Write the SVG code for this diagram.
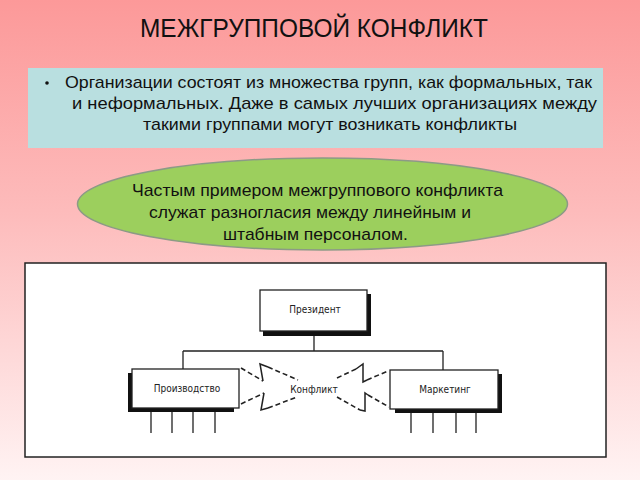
<svg xmlns="http://www.w3.org/2000/svg" width="640" height="480" viewBox="0 0 640 480">
<defs>
<linearGradient id="bg" x1="0" y1="0" x2="0" y2="1">
<stop offset="0" stop-color="#fc9999"/>
<stop offset="0.45" stop-color="#fdbcbc"/>
<stop offset="1" stop-color="#fff3f3"/>
</linearGradient>
<style>
.t{font-family:"Liberation Sans",Arial,sans-serif;fill:#111}
.d{font-family:"DejaVu Sans Condensed","Liberation Sans Narrow","Liberation Sans",sans-serif;font-size:10px;fill:#222}
.box{fill:#fff;stroke:#222;stroke-width:1.3}
.sh{fill:#111}
.ln{stroke:#222;stroke-width:1.3;fill:none}
.dash{stroke:#222;stroke-width:1.6;stroke-dasharray:5 3;fill:none}
.zz{stroke:#222;stroke-width:1.5;fill:none;stroke-linejoin:miter}
</style>
</defs>
<rect x="0" y="0" width="640" height="480" fill="url(#bg)"/>
<text class="t" x="314" y="37" font-size="25" text-anchor="middle" textLength="348" lengthAdjust="spacingAndGlyphs">МЕЖГРУППОВОЙ КОНФЛИКТ</text>
<g id="info">
<rect x="28" y="68" width="575" height="80" fill="#b9dfe0"/>
<circle cx="47" cy="83" r="1.8" fill="#111"/>
<text class="t" x="65" y="88" font-size="17" textLength="527" lengthAdjust="spacingAndGlyphs">Организации состоят из множества групп, как формальных, так</text>
<text class="t" x="72" y="109" font-size="17" textLength="525" lengthAdjust="spacingAndGlyphs">и неформальных. Даже в самых лучших организациях между</text>
<text class="t" x="143" y="130" font-size="17" textLength="374" lengthAdjust="spacingAndGlyphs">такими группами могут возникать конфликты</text>
</g>
<g id="example">
<ellipse cx="322.5" cy="204" rx="245" ry="46" fill="#9ccf5d" stroke="#8c9a86" stroke-width="1.5"/>
<text class="t" x="132" y="196" font-size="17" textLength="371" lengthAdjust="spacingAndGlyphs">Частым примером межгруппового конфликта</text>
<text class="t" x="149" y="218" font-size="17" textLength="322" lengthAdjust="spacingAndGlyphs">служат разногласия между линейным и</text>
<text class="t" x="223" y="240" font-size="17" textLength="185" lengthAdjust="spacingAndGlyphs">штабным персоналом.</text>
</g>
<rect x="25" y="263" width="581" height="194" fill="#fff" stroke="#222" stroke-width="1.5"/>
<g id="connectors">
<path class="ln" d="M314 331 V351 M183 351 H443 M183 351 V369 M443 351 V370"/>
<path class="ln" d="M151 408 V433 M172 408 V433 M193 408 V433 M215 408 V433"/>
<path class="ln" d="M411 410 V433 M433 410 V433 M456 410 V433 M476 410 V433"/>
<path class="dash" d="M241 368 L263 381 M268 367 L298 380 M241 404 L264 393 M268 408 L297 397"/>
<path class="zz" d="M263 381 L260 364 L268 367 M264 393 L261 410 L268 408"/>
<path class="dash" d="M337 378 L356 369 M367 380 L388 371 M337 397 L360 410 M368 395 L389 407"/>
<path class="zz" d="M356 369 L363 364 L363 382 L367 380 M360 410 L365 411 L365 393 L368 395"/>
</g>
<g id="president">
<rect class="sh" x="263" y="294" width="108" height="42"/>
<rect class="box" x="260" y="290" width="107" height="41"/>
<text class="d" x="315" y="313" text-anchor="middle">Президент</text>
</g>
<g id="production">
<rect class="sh" x="128" y="373" width="106" height="39"/>
<rect class="box" x="132" y="369" width="107" height="39"/>
<text class="d" x="187" y="392" text-anchor="middle">Производство</text>
</g>
<g id="conflict">
<text class="d" x="314" y="393" text-anchor="middle">Конфликт</text>
</g>
<g id="marketing">
<rect class="sh" x="395" y="374" width="107" height="39"/>
<rect class="box" x="390" y="370" width="108" height="39"/>
<text class="d" x="445" y="393" text-anchor="middle">Маркетинг</text>
</g>
</svg>
